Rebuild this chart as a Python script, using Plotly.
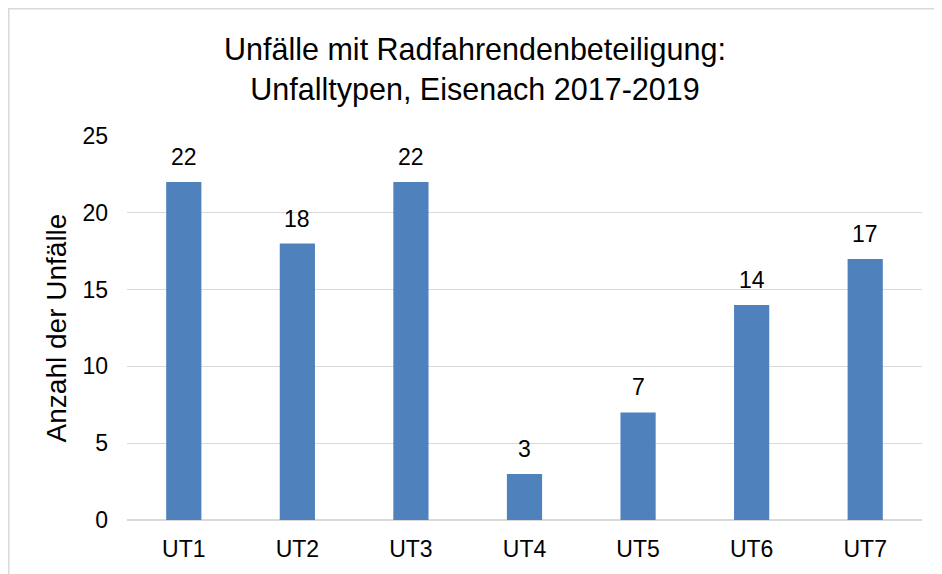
import plotly.graph_objects as go

categories = ["UT1", "UT2", "UT3", "UT4", "UT5", "UT6", "UT7"]
values = [22, 18, 22, 3, 7, 14, 17]
y_ticks = [0, 5, 10, 15, 20, 25]

FONT = "Liberation Sans, Arial, sans-serif"
BAR = "#4F81BD"
GRID = "#D9D9D9"

W, H = 934, 566
L, R, T, B = 119, 20, 128, 54
PW, PH = W - L - R, H - T - B

fig = go.Figure()
fig.add_trace(go.Bar(
    x=categories, y=values,
    marker=dict(color=BAR, line=dict(width=0)),
    hoverinfo="x+y",
))

for c, v in zip(categories, values):
    fig.add_annotation(
        x=c, y=v, text=str(v), showarrow=False,
        xanchor="center", yanchor="middle", yshift=25,
        font=dict(family=FONT, size=23, color="black"),
    )

fig.add_shape(
    type="rect", xref="paper", yref="paper",
    x0=(0.75 - L) / PW, x1=1.2, y0=-0.3, y1=1 + (T - 0.75) / PH,
    line=dict(color=GRID, width=1.5), fillcolor="rgba(0,0,0,0)",
    layer="below",
)

fig.update_layout(
    width=W, height=H,
    margin=dict(l=L, r=R, t=T, b=B),
    paper_bgcolor="white", plot_bgcolor="white",
    bargap=0.69,
    showlegend=False,
    title=dict(
        text="Unfälle mit Radfahrendenbeteiligung:<br>Unfalltypen, Eisenach 2017-2019",
        x=0.5, xanchor="center", y=1 - 52 / H, yanchor="top",
        font=dict(family=FONT, size=30.5, color="black"),
    ),
    font=dict(family=FONT, color="black"),
)

fig.update_xaxes(
    showgrid=False, showline=False, zeroline=False,
    tickfont=dict(family=FONT, size=23, color="black"),
    ticklabelstandoff=13,
)
fig.update_yaxes(
    range=[0, 25], tickvals=y_ticks,
    showgrid=True, gridcolor=GRID, gridwidth=1.3,
    zeroline=True, zerolinecolor=GRID, zerolinewidth=1.5,
    showline=False,
    tickfont=dict(family=FONT, size=23, color="black"),
    ticklabelstandoff=18,
    title=dict(text="Anzahl der Unfälle", standoff=7,
               font=dict(family=FONT, size=28, color="black")),
)

fig.write_html("out.html")
